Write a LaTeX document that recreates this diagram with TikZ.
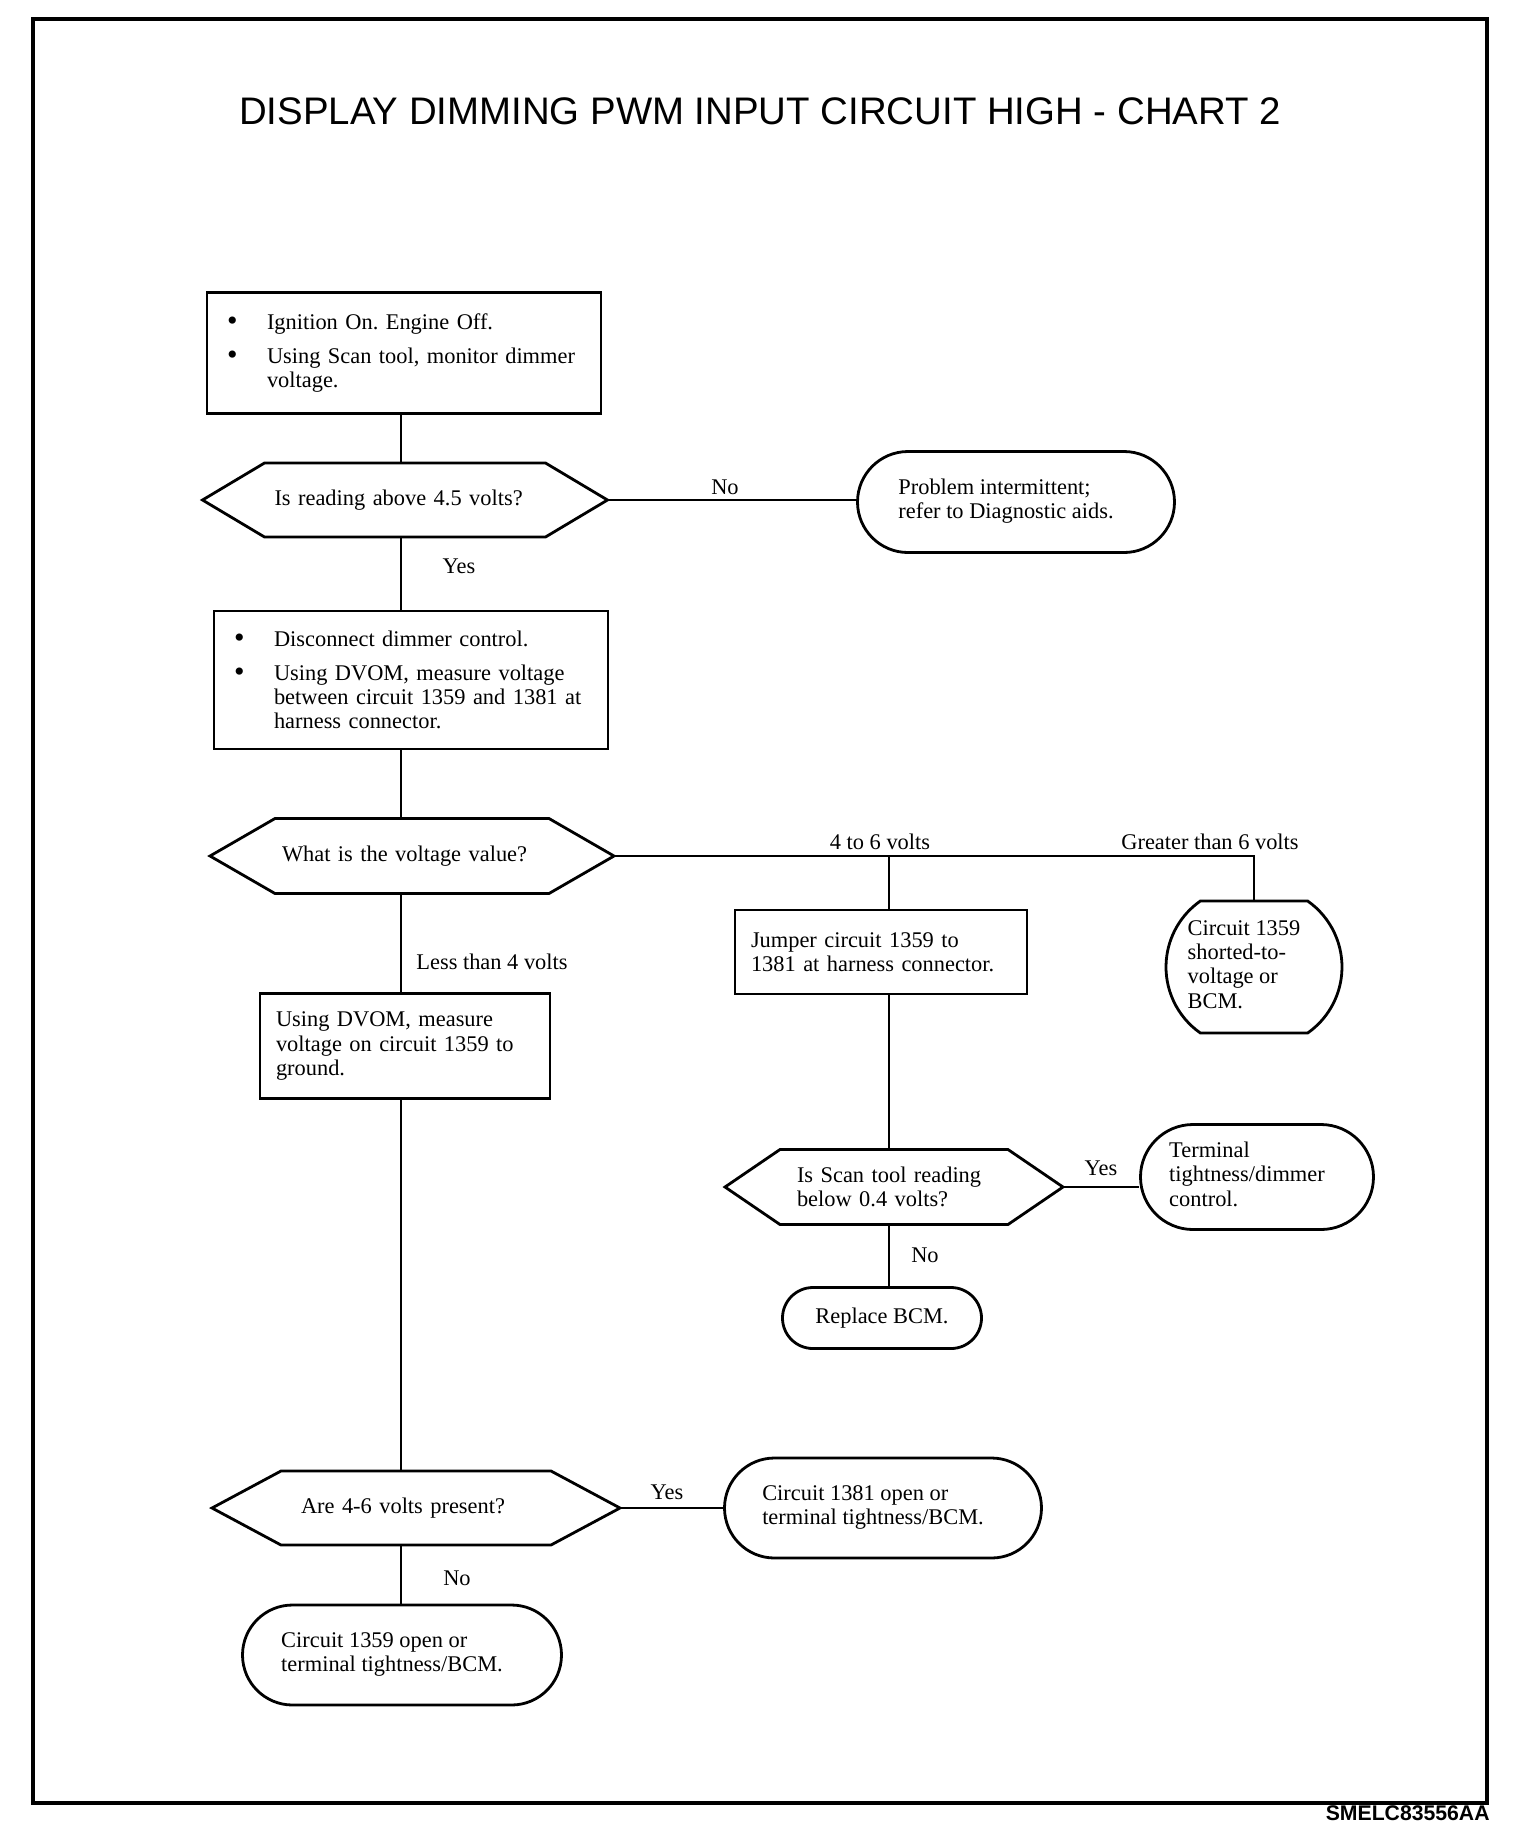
\documentclass[tikz,border=0pt]{standalone}
\usepackage{fontspec}
\setmainfont{Liberation Serif}
\newfontfamily\headfont{Liberation Sans}
\usetikzlibrary{shapes.misc}

\newcommand{\bodyfont}{\fontsize{11.2}{12.1}\selectfont\frenchspacing}
\newcommand{\bul}{\makebox[22pt][l]{\hspace{2pt}\raisebox{-0.6pt}{\fontsize{15}{12}\selectfont\textbullet}}}
\newcommand{\padr}[1]{\begin{tabular}{@{}l@{\hspace{10pt}}}#1\end{tabular}}
\newcommand{\hexof}[2]{(#1.west) -- ([xshift=#2]#1.north west) -- ([xshift=-#2]#1.north east) -- (#1.east) -- ([xshift=-#2]#1.south east) -- ([xshift=#2]#1.south west) -- cycle}

\tikzset{
  frm/.style={line width=1.4pt},
  stepbox/.style={draw, frm, rectangle, align=left, inner xsep=8pt, inner ysep=0pt, font=\bodyfont},
  dec/.style={rectangle, inner ysep=0pt, outer sep=0pt, align=left, font=\bodyfont},
  endbox/.style={draw, frm, rounded rectangle, inner sep=0pt, font=\bodyfont},
  lbl/.style={inner sep=0pt, font=\bodyfont},
  link/.style={line width=0.9pt},
}

\begin{document}
\begin{tikzpicture}[x=0.5pt, y=-0.5pt]
\useasboundingbox (0,0) rectangle (1520,1844);
\draw[line width=2.3pt] (33,19) rectangle (1487,1803);
\node[font={\headfont\fontsize{19.2}{22}\selectfont}, inner sep=0pt] (title) at (760,111) {DISPLAY DIMMING PWM INPUT CIRCUIT HIGH - CHART 2};
\node[anchor=east, font={\headfont\bfseries\fontsize{10.6}{12}\selectfont}, inner sep=0pt] (code) at (1490,1813) {SMELC83556AA};

\coordinate (col1) at (401,0);
\coordinate (col2) at (889,0);
\coordinate (col3) at (1254,0);

% left column
\node[stepbox, text width=181pt, minimum height=60.5pt] (box1) at (404,353) {\bul Ignition On. Engine Off.\\[5pt] \bul Using Scan tool, monitor dimmer\\ \hspace*{22pt}voltage.};
\node[dec, inner xsep=36pt, text width=130.5pt, minimum height=37pt] (h1) at (405,500) {Is reading above 4.5 volts?};
\node[endbox, minimum width=158.5pt, minimum height=50.5pt] (t1) at (1016,502) {\padr{Problem intermittent;\\ refer to Diagnostic aids.}};
\node[stepbox, text width=181pt, minimum height=69pt] (box2) at (411,680) {\bul Disconnect dimmer control.\\[5pt] \bul Using DVOM, measure voltage\\ \hspace*{22pt}between circuit 1359 and 1381 at\\ \hspace*{22pt}harness connector.};
\node[dec, inner xsep=36pt, text width=130pt, minimum height=37.5pt] (h2) at (412,856) {What is the voltage value?};
\node[stepbox, text width=129pt, minimum height=52.5pt] (box4) at (405,1046) {Using DVOM, measure\\ voltage on circuit 1359 to\\ ground.};
\node[dec, inner xsep=44.5pt, text width=115pt, minimum height=37pt] (h4) at (416,1508) {Are 4-6 volts present?};
\node[endbox, minimum width=158.5pt, minimum height=50pt] (t4y) at (883,1508) {\padr{Circuit 1381 open or\\ terminal tightness/BCM.}};
\node[endbox, minimum width=159.5pt, minimum height=50pt] (t4n) at (402,1655) {\padr{Circuit 1359 open or\\ terminal tightness/BCM.}};

% right columns
\node[stepbox, text width=130pt, minimum height=42pt] (box3) at (881,952) {Jumper circuit 1359 to\\ 1381 at harness connector.};
\node[endbox, rounded rectangle arc length=110, minimum width=88pt, minimum height=66pt] (tg6) at (1254,967) {\padr{Circuit 1359\\ shorted-to-\\ voltage or\\ BCM.}};
\node[dec, inner xsep=36pt, text width=97pt, minimum height=37.5pt] (h3) at (894,1187) {Is Scan tool reading\\ below 0.4 volts?};
\node[endbox, minimum width=116.5pt, minimum height=52.5pt] (t3y) at (1257,1177) {\padr{Terminal\\ tightness/dimmer\\ control.}};
\node[endbox, minimum width=99.5pt, minimum height=30.5pt] (rb) at (882,1318) {Replace BCM.};

% decision outlines
\draw[frm] \hexof{h1}{31pt};
\draw[frm] \hexof{h2}{32.5pt};
\draw[frm] \hexof{h3}{27.5pt};
\draw[frm] \hexof{h4}{34.5pt};

% connectors
\draw[link] (box1.south -| col1) -- (h1.north -| col1);
\draw[link] (h1.east) -- (h1.east -| t1.west);
\draw[link] (h1.south -| col1) -- (box2.north -| col1);
\draw[link] (box2.south -| col1) -- (h2.north -| col1);
\draw[link, line width=1.3pt] (h2.east) -- (h2.east -| col3) -- (tg6.north);
\draw[link] (h2.east -| col2) -- (box3.north -| col2);
\draw[link] (box3.south -| col2) -- (h3.north -| col2);
\draw[link] (h3.east) -- (h3.east -| t3y.west);
\draw[link] (h3.south -| col2) -- (rb.north -| col2);
\draw[link] (h2.south -| col1) -- (box4.north -| col1);
\draw[link] (box4.south -| col1) -- (h4.north -| col1);
\draw[link] (h4.east) -- (h4.east -| t4y.west);
\draw[link] (h4.south -| col1) -- (t4n.north -| col1);

% branch labels
\node[lbl] (no1) at (725,487) {No};
\node[lbl] (yes1) at (459,566) {Yes};
\node[lbl] (mid2) at (880,842) {4 to 6 volts};
\node[lbl] (hi2) at (1210,842) {Greater than 6 volts};
\node[lbl] (lo2) at (492,962) {Less than 4 volts};
\node[lbl] (yes3) at (1101,1168) {Yes};
\node[lbl] (no3) at (925,1255) {No};
\node[lbl] (yes4) at (667,1492) {Yes};
\node[lbl] (no4) at (457,1578) {No};
\end{tikzpicture}
\end{document}
